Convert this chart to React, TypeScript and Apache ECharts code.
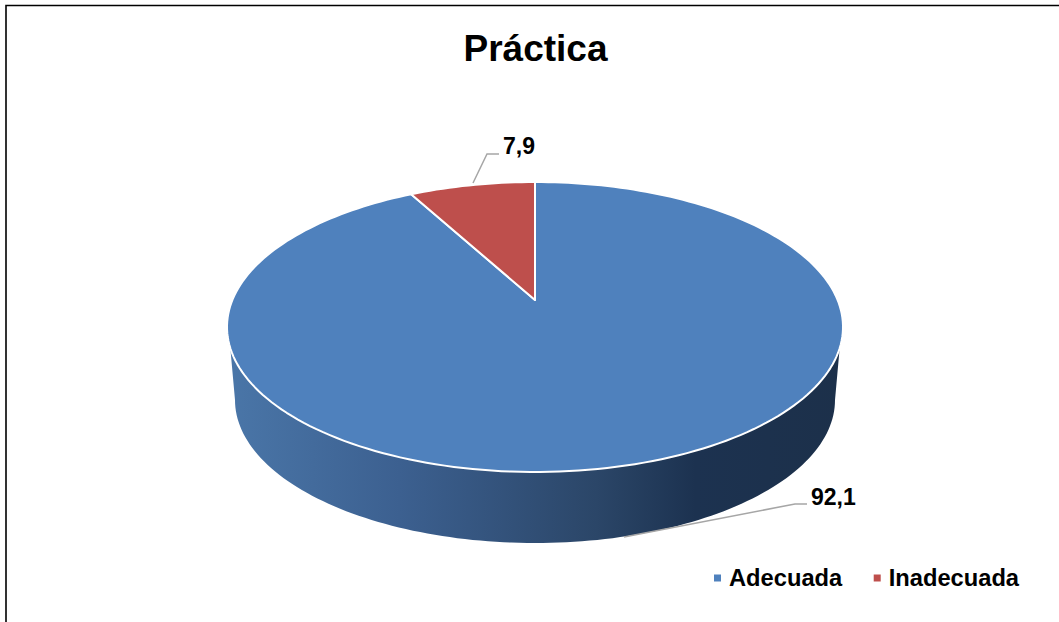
import React, { useEffect, useRef } from "react";
import * as echarts from "echarts";

const categories = ["Adecuada", "Inadecuada"];
const values = [92.1, 7.9];
const sliceColors = ["#4F81BD", "#BE4F4C"];
const titleText = "Práctica";

// Label placement and leader lines for each slice
const labelAnchors = [
  { x: 811, y: 497, line: [[624, 537], [795, 504], [807, 504]] },
  { x: 503, y: 146, line: [[473, 183], [487, 154], [499, 154]] },
];

const FONT = '"Liberation Sans", Arial, sans-serif';
const top = { cx: 535, cy: 327, rx: 308, ry: 145 };
const bottom = { cx: 535, cy: 400, rx: 300, ry: 143 };
const tilt = -27 / 145; // perspective shift of the pie centre within its ellipse

const total = values.reduce((a, b) => a + b, 0);

function project(theta: number) {
  const x = Math.sin(theta);
  const y = -Math.cos(theta);
  const d = 1 + tilt * y;
  return [
    top.cx + (top.rx * x * Math.sqrt(1 - tilt * tilt)) / d,
    top.cy + (top.ry * (y + tilt)) / d,
  ];
}

function slicePoints(startFrac: number, endFrac: number) {
  const pts: number[][] = [[top.cx, top.cy + top.ry * tilt]];
  const a0 = startFrac * 2 * Math.PI;
  const a1 = endFrac * 2 * Math.PI;
  const n = Math.max(4, Math.ceil(((a1 - a0) / (2 * Math.PI)) * 240));
  for (let i = 0; i <= n; i++) pts.push(project(a0 + ((a1 - a0) * i) / n));
  return pts;
}

function wallPoints() {
  const pts: number[][] = [];
  const startDeg = -3.6;
  const n = 120;
  for (let i = 0; i <= n; i++) {
    const t = ((startDeg + ((180 - 2 * startDeg) * i) / n) * Math.PI) / 180;
    pts.push([top.cx + top.rx * Math.cos(t), top.cy + top.ry * Math.sin(t)]);
  }
  for (let i = 0; i <= n; i++) {
    const t = Math.PI - (Math.PI * i) / n;
    pts.push([bottom.cx + bottom.rx * Math.cos(t), bottom.cy + bottom.ry * Math.sin(t)]);
  }
  return pts;
}

const wallGradient = () =>
  new echarts.graphic.LinearGradient(0, 0, 1, 0, [
    { offset: 0, color: "#4A76A8" },
    { offset: 0.28, color: "#3C6090" },
    { offset: 0.6, color: "#2B4668" },
    { offset: 0.76, color: "#1C3250" },
    { offset: 1, color: "#1C304A" },
  ]);

function makeSeries(index: number) {
  const before = values.slice(0, index).reduce((a, b) => a + b, 0);
  return {
    type: "custom",
    name: categories[index],
    coordinateSystem: "none",
    silent: true,
    clip: false,
    itemStyle: { color: sliceColors[index] },
    data: [values[index]],
    renderItem: (_p: any, api: any) => {
      const v = api.value(0) as number;
      const children: any[] = [];
      if (index === 0) {
        children.push({
          type: "polygon",
          shape: { points: wallPoints() },
          style: { fill: wallGradient(), stroke: "none" },
        });
      }
      children.push({
        type: "polygon",
        shape: { points: slicePoints(before / total, (before + v) / total) },
        style: { fill: sliceColors[index], stroke: "#FFFFFF", lineWidth: 2, lineJoin: "round" },
      });
      const a = labelAnchors[index];
      children.push({
        type: "polyline",
        shape: { points: a.line },
        style: { fill: "none", stroke: "#A6A6A6", lineWidth: 1.5 },
      });
      children.push({
        type: "text",
        style: {
          text: String(v).replace(".", ","),
          x: a.x,
          y: a.y,
          fill: "#000000",
          font: `bold 23px ${FONT}`,
          textAlign: "left",
          textVerticalAlign: "middle",
          verticalAlign: "middle",
        },
      });
      return { type: "group", children };
    },
  };
}

export default function App() {
  const ref = useRef<HTMLDivElement>(null);
  useEffect(() => {
    const chart = echarts.init(ref.current!, null, { renderer: "svg" });
    chart.setOption({
      animation: false,
      backgroundColor: "#FFFFFF",
      title: {
        text: titleText,
        left: 530.5,
        top: 25,
        textAlign: "center",
        textStyle: { fontFamily: FONT, fontWeight: "bold", fontSize: 37, color: "#000000" },
      },
      legend: {
        data: categories,
        left: 714,
        top: 566,
        padding: 0,
        icon: "rect",
        itemWidth: 7,
        itemHeight: 7,
        itemGap: 31.5,
        textStyle: {
          fontFamily: FONT,
          fontWeight: "bold",
          fontSize: 23.7,
          color: "#000000",
          padding: [0, 0, 0, 3],
        },
      },
      graphic: [
        {
          type: "rect",
          silent: true,
          z: -1,
          shape: { x: 6, y: 5.5, width: 1200, height: 800 },
          style: { fill: "none", stroke: "#000000", lineWidth: 1.6 },
        },
      ],
      series: categories.map((_, i) => makeSeries(i)),
    });
    return () => chart.dispose();
  }, []);
  return <div ref={ref} style={{ position: "fixed", left: 0, top: 0, width: 1059, height: 622 }} />;
}
